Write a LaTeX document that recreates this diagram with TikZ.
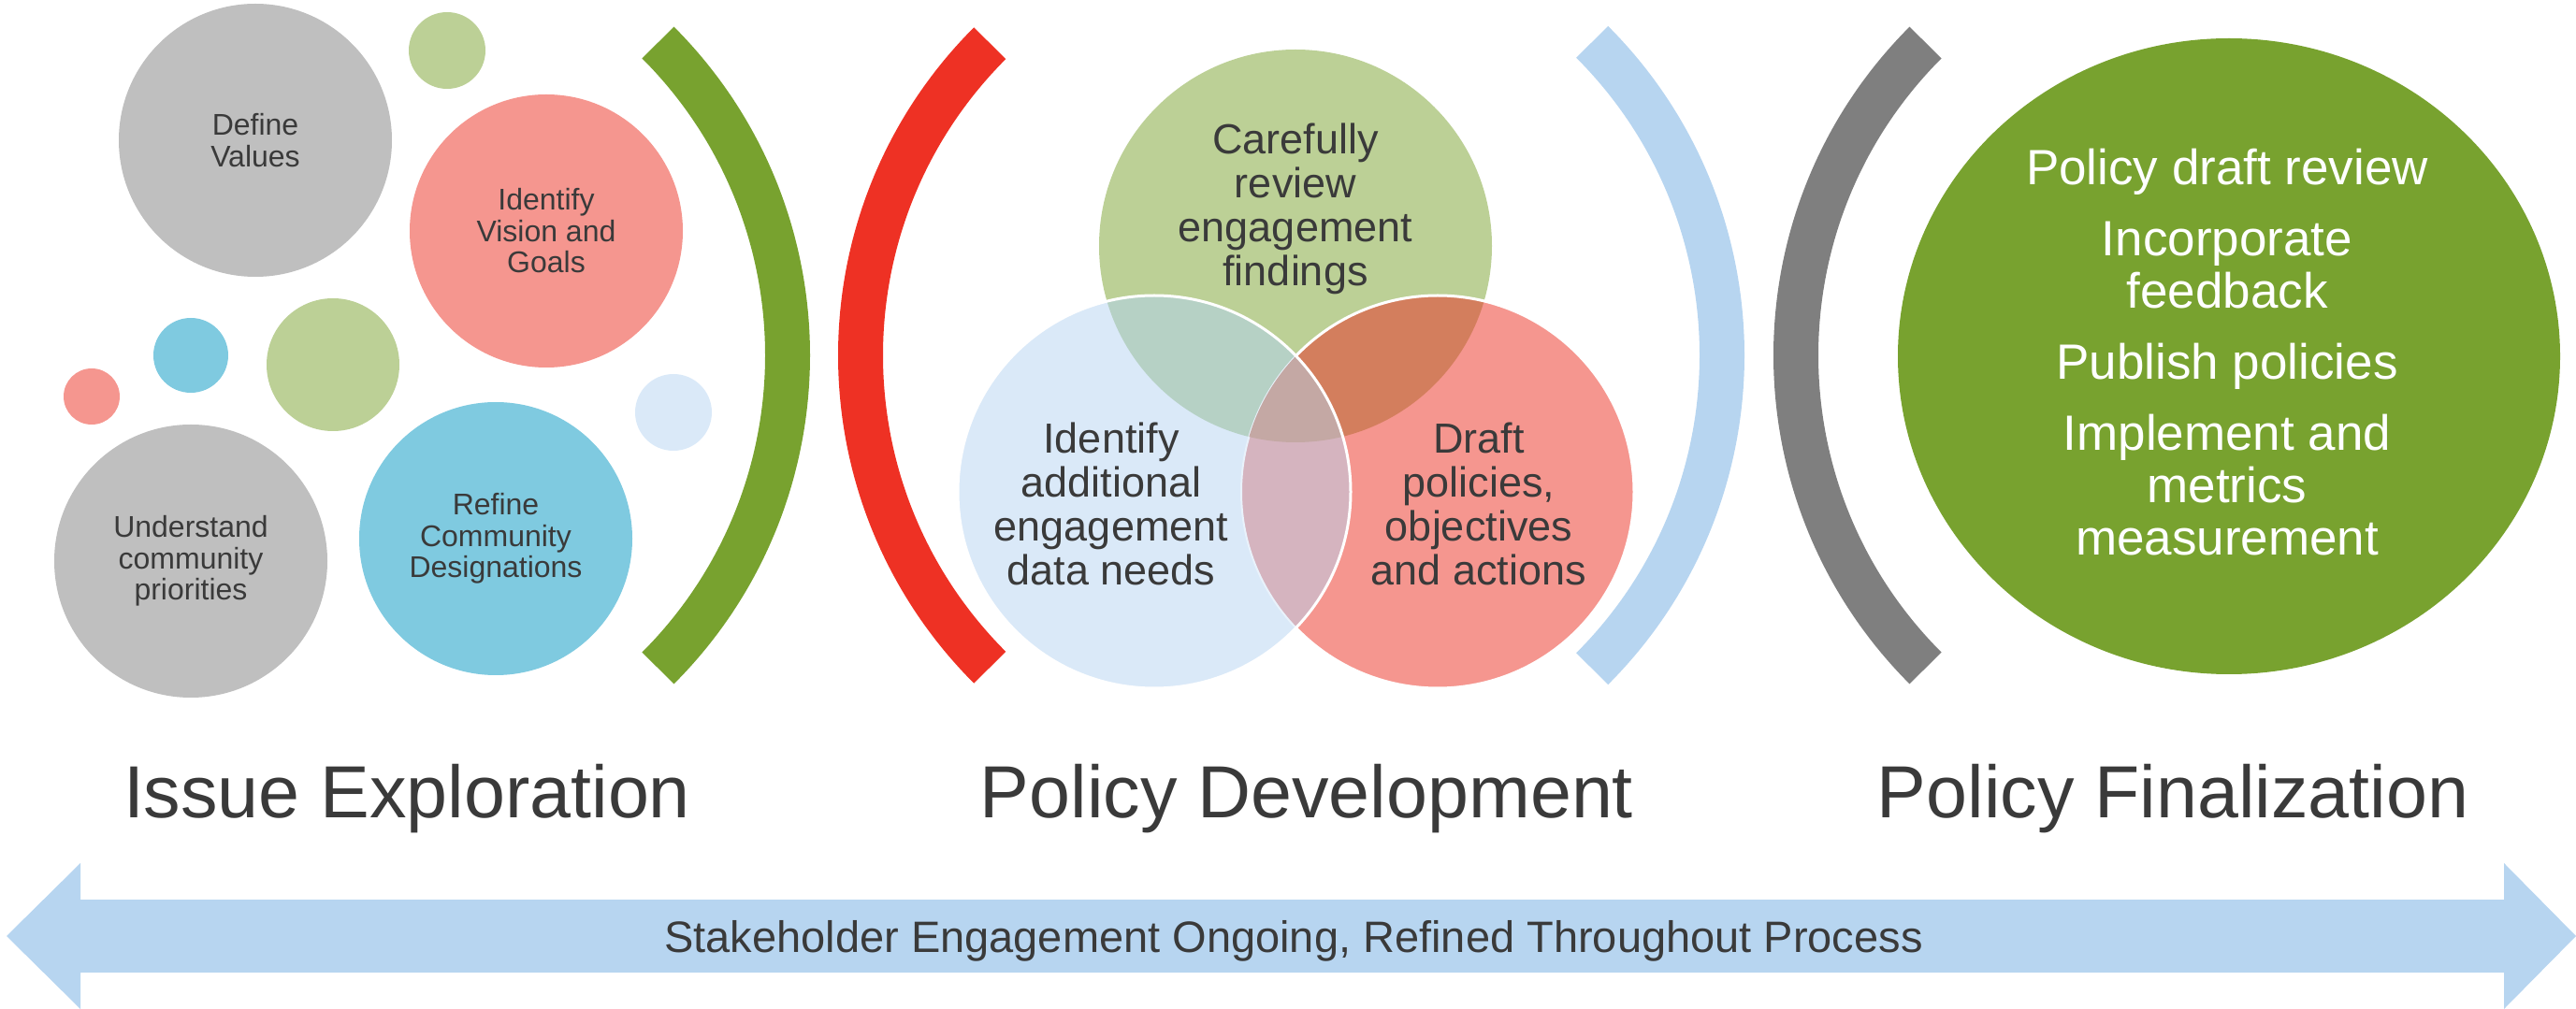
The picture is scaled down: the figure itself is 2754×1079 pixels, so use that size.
\documentclass[tikz,border=0pt]{standalone}
\usepackage{fontspec}
\setmainfont{Liberation Sans}
\usepackage{tikz}
\usetikzlibrary{shapes.geometric}

\definecolor{txtgray}{HTML}{3A3A3A}
\definecolor{cgray}{HTML}{BFBFBF}
\definecolor{cpink}{HTML}{F5968F}
\definecolor{clgreen}{HTML}{BCD096}
\definecolor{cblue}{HTML}{7FCAE0}
\definecolor{cpale}{HTML}{DAE9F8}
\definecolor{cgreen}{HTML}{78A22F}
\definecolor{cred}{HTML}{EE3124}
\definecolor{clblue}{HTML}{B7D5F0}
\definecolor{cdgray}{HTML}{7F7F7F}
\definecolor{cgp}{HTML}{D37E5D}
\definecolor{cgb}{HTML}{B6D1C5}
\definecolor{cpb}{HTML}{D5B4BF}
\definecolor{cmid}{HTML}{C4A8A4}

\begin{document}
\begin{tikzpicture}[x=0.5pt,y=-0.5pt]
\tikzstyle{bubble} = [circle, inner sep=0, outer sep=0, align=center, text=txtgray, font=\fontsize{16}{16.75}\selectfont]
\tikzstyle{speck} = [circle, inner sep=0, outer sep=0]
\tikzstyle{bracket} = [line width=24pt]
\tikzstyle{venntext} = [align=center, text=txtgray, font=\fontsize{22.5}{23.5}\selectfont]
\tikzstyle{phaselabel} = [anchor=base, text=txtgray, font=\fontsize{39.5}{40}\selectfont]

\useasboundingbox (0,0) rectangle (2754,1079);

% issue exploration
\node(values)[bubble, fill=cgray, minimum size=146pt] at (273,150) {Define\\Values};
\node(vision)[bubble, fill=cpink, minimum size=146pt] at (584,247) {Identify\\Vision and\\Goals};
\node(priorities)[bubble, fill=cgray, minimum size=146pt] at (204,600) {Understand\\community\\priorities};
\node(designations)[bubble, fill=cblue, minimum size=146pt] at (530,576) {Refine\\Community\\Designations};
\node(speckgreen)[speck, fill=clgreen, minimum size=41pt] at (478,54) {};
\node(speckblue)[speck, fill=cblue, minimum size=40pt] at (204,380) {};
\node(speckpink)[speck, fill=cpink, minimum size=30pt] at (98,424) {};
\node(speckmid)[speck, fill=clgreen, minimum size=71pt] at (356,390) {};
\node(speckpale)[speck, fill=cpale, minimum size=41pt] at (720,441) {};

% brackets
\coordinate (greenc) at (369,380);
\coordinate (redc) at (1392,380);
\coordinate (bluec) at (1367,380);
\coordinate (grayc) at (2393,380);
\draw[bracket, cgreen] (greenc) ++(-45:236.5pt) arc[start angle=-45, end angle=45, radius=236.5pt];
\draw[bracket, cred] (redc) ++(135:236pt) arc[start angle=135, end angle=225, radius=236pt];
\draw[bracket, clblue] (bluec) ++(-45:237pt) arc[start angle=-45, end angle=45, radius=237pt];
\draw[bracket, cdgray] (grayc) ++(135:236.5pt) arc[start angle=135, end angle=225, radius=236.5pt];

% policy development venn
\coordinate (vtop) at (1385,263);
\coordinate (vleft) at (1234,526);
\coordinate (vright) at (1537,526);
\fill[clgreen] (vtop) circle (105pt);
\fill[cpink] (vright) circle (105pt);
\begin{scope}
\clip (vtop) circle (105pt);
\fill[cgp] (vright) circle (105pt);
\end{scope}
\draw[white, line width=1.5pt] (vright) circle (105pt);
\fill[cpale] (vleft) circle (105pt);
\begin{scope}
\clip (vleft) circle (105pt);
\fill[cgb] (vtop) circle (105pt);
\fill[cpb] (vright) circle (105pt);
\draw[cpale!60!white, line width=1pt] (vright) circle (105pt);
\clip (vtop) circle (105pt);
\fill[cmid] (vright) circle (105pt);
\end{scope}
\draw[white, line width=1.5pt] (vleft) circle (105pt);

\node(review)[venntext] at (1385,223) {Carefully\\review\\engagement\\findings};
\node(needs)[venntext] at (1188,539) {Identify\\additional\\engagement\\data needs};
\node(actions)[venntext] at (1581,539) {Draft\\policies,\\objectives\\and actions};

% policy finalization
\node(finalbubble)[ellipse, fill=cgreen, inner sep=0, minimum width=354pt, minimum height=340pt] at (2383,381) {};
\node(finalsteps)[align=center, text=white, font=\fontsize{26.5}{28}\selectfont] at (2381,377)
  {Policy draft review\\[10pt]Incorporate\\feedback\\[10pt]Publish policies\\[10pt]Implement and\\metrics\\measurement};

% phase titles
\node(exploration)[phaselabel] at (435,874) {Issue Exploration};
\node(development)[phaselabel] at (1397,874) {Policy Development};
\node(finalization)[phaselabel] at (2323,874) {Policy Finalization};

% ongoing arrow
\fill[clblue] (7,1001) -- (86,923) -- (86,962) -- (2677,962) -- (2677,923) -- (2754,1001)
  -- (2677,1079) -- (2677,1040) -- (86,1040) -- (86,1079) -- cycle;
\node(ongoing)[anchor=base, text=txtgray, font=\fontsize{23.5}{24}\selectfont] at (1383,1018)
  {Stakeholder Engagement Ongoing, Refined Throughout Process};
\end{tikzpicture}
\end{document}
